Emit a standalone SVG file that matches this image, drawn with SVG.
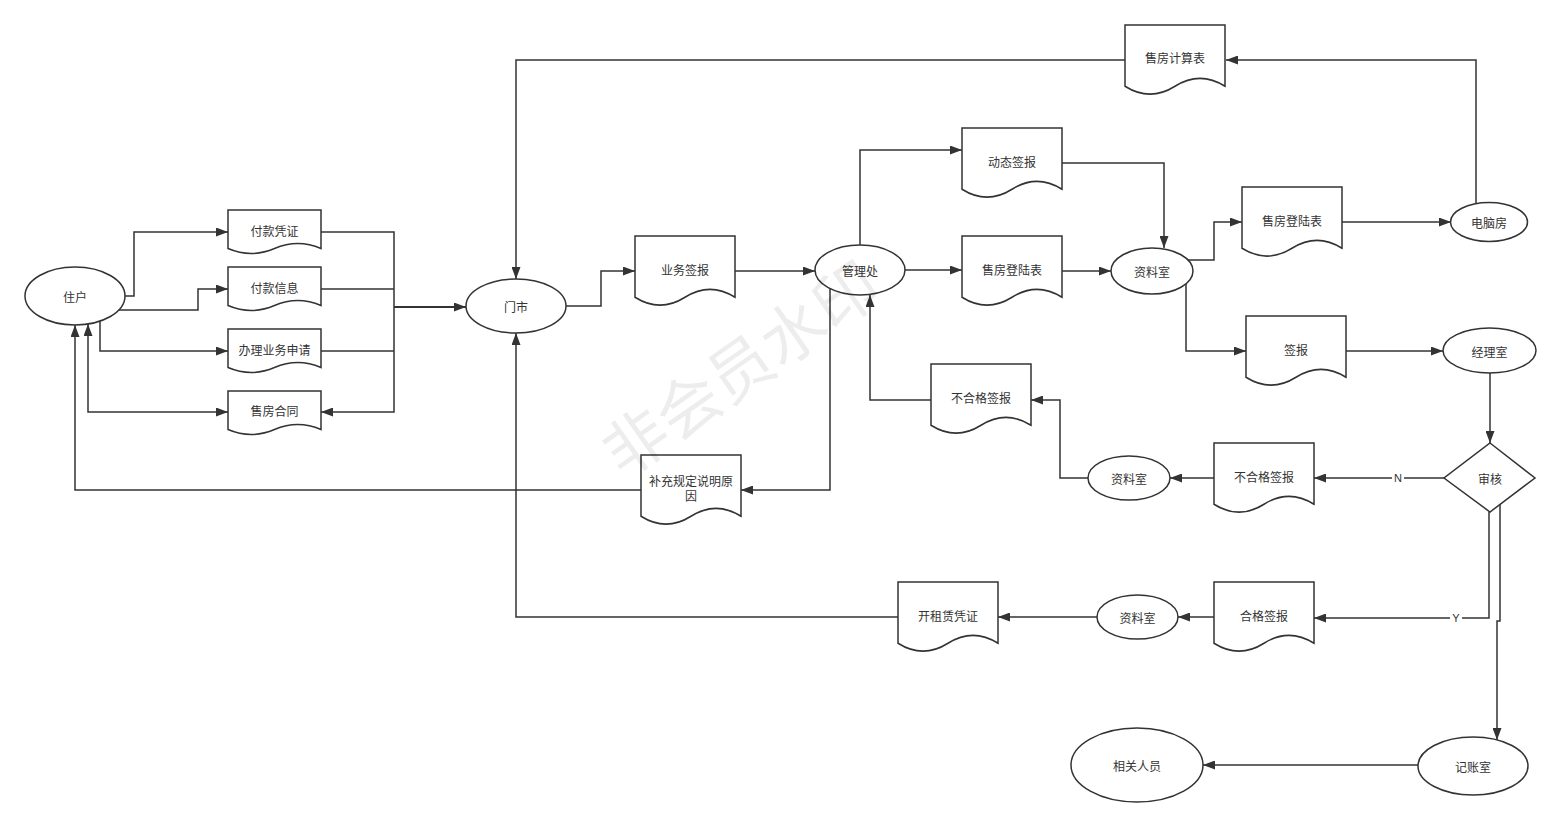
<svg xmlns="http://www.w3.org/2000/svg" width="1562" height="827" viewBox="0 0 1562 827">
<style>
.s{fill:#fff;stroke:#333;stroke-width:1.5}
.t{font-family:"Noto Sans CJK SC","Liberation Sans",sans-serif;font-size:12px;fill:#333;text-anchor:middle;dominant-baseline:central}
.c path{fill:none;stroke:#333;stroke-width:1.5}
.lb{font-family:"Liberation Sans",sans-serif;font-size:11px;fill:#333;text-anchor:middle;dominant-baseline:central}
</style>
<defs>
<marker id="a" markerUnits="userSpaceOnUse" markerWidth="12" markerHeight="9" refX="12" refY="4.5" orient="auto-start-reverse"><path d="M0,0 L12,4.5 L0,9 Z" fill="#333"/></marker>
</defs>
<rect width="1562" height="827" fill="#fff"/>
<g class="c">
<path d="M125,296 H134 V232 H228" marker-end="url(#a)"/>
<path d="M118,310 H198 V289 H228" marker-end="url(#a)"/>
<path d="M100,321 V351 H228" marker-end="url(#a)"/>
<path d="M88,324 V412 H228" marker-start="url(#a)" marker-end="url(#a)"/>
<path d="M321,232 H394 V412 H321" marker-end="url(#a)"/>
<path d="M321,289 H394"/>
<path d="M321,351 H394"/>
<path d="M394,307 H466" style="stroke-width:2" marker-end="url(#a)"/>
<path d="M566,306 H601 V271 H635" marker-end="url(#a)"/>
<path d="M735,271 H815" marker-end="url(#a)"/>
<path d="M860,245 V150 H962" marker-end="url(#a)"/>
<path d="M905,270 H962" marker-end="url(#a)"/>
<path d="M1062,163 H1164 V248" marker-end="url(#a)"/>
<path d="M1062,271 H1111" marker-end="url(#a)"/>
<path d="M1188,260 H1214 V222 H1242" marker-end="url(#a)"/>
<path d="M1342,222 H1451" marker-end="url(#a)"/>
<path d="M1476,204 V60 H1226" marker-end="url(#a)"/>
<path d="M1125,60 H516 V279" marker-end="url(#a)"/>
<path d="M1186,284 V351 H1246" marker-end="url(#a)"/>
<path d="M1346,351 H1443" marker-end="url(#a)"/>
<path d="M1490,373 V443" marker-end="url(#a)"/>
<path d="M1444,478 H1314" marker-end="url(#a)"/>
<path d="M1214,478 H1170" marker-end="url(#a)"/>
<path d="M1089,478 H1060 V400 H1031" marker-end="url(#a)"/>
<path d="M931,400 H870 V295" marker-end="url(#a)"/>
<path d="M830,289 V490 H741" marker-end="url(#a)"/>
<path d="M641,490 H75 V325" marker-end="url(#a)"/>
<path d="M1489,512 V618 H1314" marker-end="url(#a)"/>
<path d="M1500,504 V621 H1497 V740" marker-end="url(#a)"/>
<path d="M1418,765 H1203" marker-end="url(#a)"/>
<path d="M1214,617 H1178" marker-end="url(#a)"/>
<path d="M1097,617 H998" marker-end="url(#a)"/>
<path d="M898,617 H516 V333" marker-end="url(#a)"/>
<rect x="1392" y="471" width="12" height="14" fill="#fff"/>
<text class="lb" x="1398" y="478">N</text>
<rect x="1450" y="611" width="12" height="14" fill="#fff"/>
<text class="lb" x="1456" y="618">Y</text>
</g>
<g id="zhuhu"><ellipse class="s" cx="75" cy="296" rx="50" ry="29"/><text class="t" x="75" y="296">住户</text></g>
<g id="fkpz"><path class="s" d="M228,210 H321 V248.5 Q297.75,238.6 274.5,248.5 Q251.25,258.4 228,248.5 Z"/><text class="t" x="274.5" y="230">付款凭证</text></g>
<g id="fkxx"><path class="s" d="M228,267 H321 V305.5 Q297.75,295.6 274.5,305.5 Q251.25,315.4 228,305.5 Z"/><text class="t" x="274.5" y="287">付款信息</text></g>
<g id="blywsq"><path class="s" d="M228,329 H321 V367.5 Q297.75,357.6 274.5,367.5 Q251.25,377.4 228,367.5 Z"/><text class="t" x="274.5" y="349">办理业务申请</text></g>
<g id="sfht"><path class="s" d="M228,391 H321 V429.5 Q297.75,419.6 274.5,429.5 Q251.25,439.4 228,429.5 Z"/><text class="t" x="274.5" y="410">售房合同</text></g>
<g id="menshi"><ellipse class="s" cx="516" cy="306" rx="50" ry="27"/><text class="t" x="516" y="306">门市</text></g>
<g id="ywqb"><path class="s" d="M635,236 H735 V297.25 Q710,281.5 685,297.25 Q660,313 635,297.25 Z"/><text class="t" x="685" y="269">业务签报</text></g>
<g id="glc"><ellipse class="s" cx="860" cy="270" rx="45" ry="25"/><text class="t" x="860" y="270">管理处</text></g>
<g id="dtqb"><path class="s" d="M962,128 H1062 V189.25 Q1037,173.5 1012,189.25 Q987,205 962,189.25 Z"/><text class="t" x="1012" y="161">动态签报</text></g>
<g id="sfdlb1"><path class="s" d="M962,236 H1062 V297.25 Q1037,281.5 1012,297.25 Q987,313 962,297.25 Z"/><text class="t" x="1012" y="269">售房登陆表</text></g>
<g id="zls1"><ellipse class="s" cx="1152" cy="271" rx="41" ry="23"/><text class="t" x="1152" y="271">资料室</text></g>
<g id="sfdlb2"><path class="s" d="M1242,187 H1342 V248.25 Q1317,232.5 1292,248.25 Q1267,264 1242,248.25 Z"/><text class="t" x="1292" y="220">售房登陆表</text></g>
<g id="dnf"><ellipse class="s" cx="1489" cy="222" rx="38.5" ry="19.5"/><text class="t" x="1489" y="222">电脑房</text></g>
<g id="sfjsb"><path class="s" d="M1125,25 H1225 V86.25 Q1200,70.5 1175,86.25 Q1150,102 1125,86.25 Z"/><text class="t" x="1175" y="57">售房计算表</text></g>
<g id="qb"><path class="s" d="M1246,316 H1346 V377.25 Q1321,361.5 1296,377.25 Q1271,393 1246,377.25 Z"/><text class="t" x="1296" y="349">签报</text></g>
<g id="jls"><ellipse class="s" cx="1489.5" cy="350.5" rx="46.5" ry="22.5"/><text class="t" x="1489.5" y="351">经理室</text></g>
<g id="sh"><path class="s" d="M1490,443 L1535,478 L1490,512 L1444,478 Z"/><text class="t" x="1490" y="478">审核</text></g>
<g id="bhgqb2"><path class="s" d="M1214,443 H1314 V504.25 Q1289,488.5 1264,504.25 Q1239,520 1214,504.25 Z"/><text class="t" x="1264" y="476">不合格签报</text></g>
<g id="zls2"><ellipse class="s" cx="1129" cy="478" rx="41" ry="22"/><text class="t" x="1129" y="478">资料室</text></g>
<g id="bhgqb1"><path class="s" d="M931,364 H1031 V425.25 Q1006,409.5 981,425.25 Q956,441 931,425.25 Z"/><text class="t" x="981" y="397">不合格签报</text></g>
<g id="bcgd"><path class="s" d="M641,455 H741 V516.25 Q716,500.5 691,516.25 Q666,532 641,516.25 Z"/><text class="t" x="691" y="480">补充规定说明原</text><text class="t" x="691" y="495">因</text></g>
<g id="hgqb"><path class="s" d="M1214,582 H1314 V643.25 Q1289,627.5 1264,643.25 Q1239,659 1214,643.25 Z"/><text class="t" x="1264" y="615">合格签报</text></g>
<g id="zls3"><ellipse class="s" cx="1137.5" cy="617" rx="40.5" ry="22"/><text class="t" x="1137.5" y="617">资料室</text></g>
<g id="kzlpz"><path class="s" d="M898,582 H998 V643.25 Q973,627.5 948,643.25 Q923,659 898,643.25 Z"/><text class="t" x="948" y="615">开租赁凭证</text></g>
<g id="jzs"><ellipse class="s" cx="1473" cy="766" rx="55" ry="29"/><text class="t" x="1473" y="766">记账室</text></g>
<g id="xgry"><ellipse class="s" cx="1137" cy="765" rx="66" ry="37"/><text class="t" x="1137" y="765">相关人员</text></g>
<text x="738" y="365" transform="rotate(-35 738 365)" style="font-family:'Noto Sans CJK SC',sans-serif;font-size:64px;fill:#000;fill-opacity:0.07;text-anchor:middle;dominant-baseline:central">非会员水印</text>
</svg>
